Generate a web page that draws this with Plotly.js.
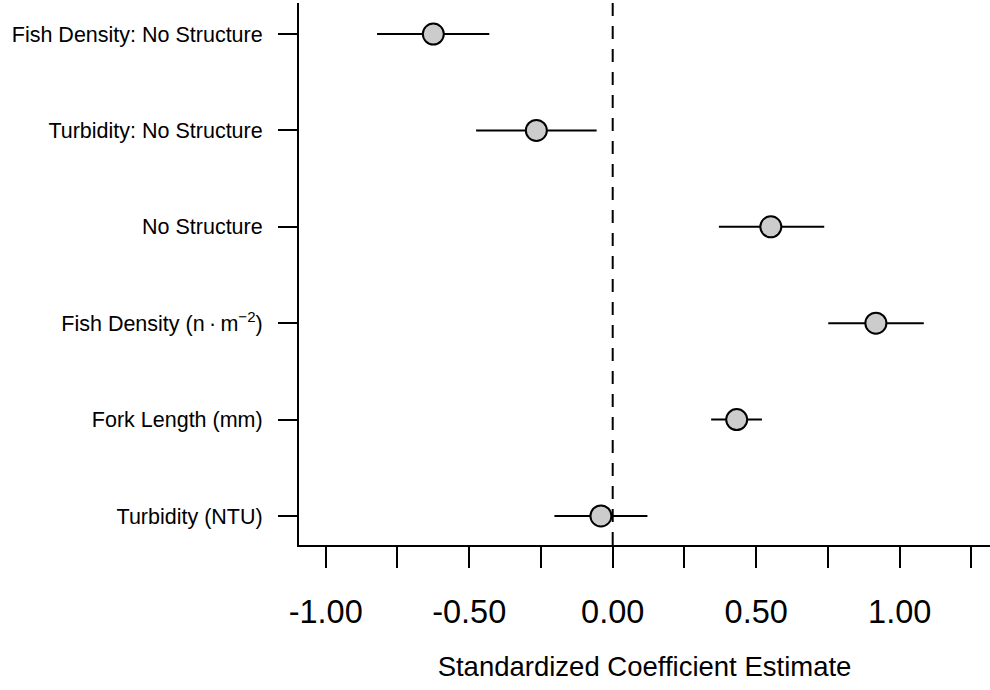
<!DOCTYPE html>
<html>
<head>
<meta charset="utf-8">
<script src="https://cdn.plot.ly/plotly-3.0.1.min.js"></script>
<style>
  html, body { margin: 0; padding: 0; background: #ffffff; }
  #chart { width: 990px; height: 690px; }
</style>
</head>
<body>
<div id="chart"></div>
<script>
// Terms, bottom row first
const terms = [
  "Turbidity (NTU)",
  "Fork Length (mm)",
  "Fish Density (n\u2009\u00b7\u2009m<sup>\u22122</sup>)",
  "No Structure",
  "Turbidity: No Structure",
  "Fish Density: No Structure"
];
const estimates = [-0.041, 0.432, 0.917, 0.551, -0.266, -0.625];
const lowerCI   = [-0.203, 0.343, 0.751, 0.370, -0.476, -0.821];
const upperCI   = [ 0.121, 0.520, 1.084, 0.737, -0.056, -0.430];

const xMajorTickVals = [-1.00, -0.50, 0.00, 0.50, 1.00];
const xMajorTickText = ["-1.00", "-0.50", "0.00", "0.50", "1.00"];
const xMinorTickVals = [-0.75, -0.25, 0.25, 0.75, 1.25];

const rowPos = terms.map((_, i) => i);
const errPlus = upperCI.map((u, i) => u - estimates[i]);
const errMinus = estimates.map((e, i) => e - lowerCI[i]);

const FONT = "Liberation Sans, Arial, Helvetica, sans-serif";

const trace = {
  type: "scatter",
  mode: "markers",
  x: estimates,
  y: rowPos,
  error_x: {
    type: "data",
    symmetric: false,
    array: errPlus,
    arrayminus: errMinus,
    width: 0,
    thickness: 2,
    color: "#000000"
  },
  marker: {
    symbol: "circle",
    size: 21,
    color: "#cccccc",
    line: { color: "#000000", width: 2 }
  },
  hoverinfo: "x+y",
  showlegend: false
};

const layout = {
  width: 990,
  height: 690,
  margin: { l: 299, r: 0, t: 3, b: 145, pad: 0 },
  paper_bgcolor: "#ffffff",
  plot_bgcolor: "#ffffff",
  font: { family: FONT, color: "#000000" },
  showlegend: false,
  xaxis: {
    range: [-1.093, 1.3146],
    tickmode: "array",
    tickvals: xMajorTickVals,
    ticktext: xMajorTickText,
    ticks: "outside",
    ticklen: 21,
    tickwidth: 2,
    tickcolor: "#000000",
    minor: {
      tickmode: "array",
      tickvals: xMinorTickVals,
      ticks: "outside",
      ticklen: 21,
      tickwidth: 2,
      tickcolor: "#000000",
      showgrid: false
    },
    ticklabelstandoff: 16,
    tickfont: { family: FONT, size: 32.5, color: "#000000" },
    showline: true,
    linewidth: 2,
    linecolor: "#000000",
    showgrid: false,
    zeroline: false,
    title: {
      text: "Standardized Coefficient Estimate",
      font: { family: FONT, size: 27.5, color: "#000000" },
      standoff: 28
    }
  },
  yaxis: {
    range: [-0.301, 5.322],
    tickmode: "array",
    tickvals: rowPos,
    ticktext: terms,
    ticks: "outside",
    ticklen: 19,
    tickwidth: 2,
    tickcolor: "#000000",
    ticklabelstandoff: 11,
    tickfont: { family: FONT, size: 21.5, color: "#000000" },
    showline: true,
    linewidth: 2,
    linecolor: "#000000",
    showgrid: false,
    zeroline: false
  },
  shapes: [{
    type: "line",
    xref: "x",
    yref: "paper",
    x0: 0, x1: 0,
    y0: 0, y1: 1,
    layer: "below",
    line: { color: "#000000", width: 2, dash: "13px,10px" }
  }]
};

Plotly.newPlot("chart", [trace], layout, { displayModeBar: false, staticPlot: true });
</script>
</body>
</html>
